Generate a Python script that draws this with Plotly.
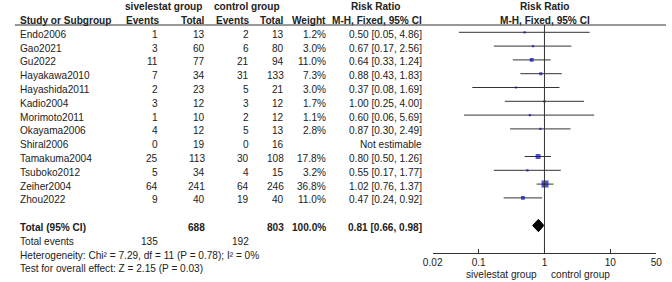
import math
import plotly.graph_objects as go

studies = ["Endo2006", "Gao2021", "Gu2022", "Hayakawa2010", "Hayashida2011", "Kadio2004",
           "Morimoto2011", "Okayama2006", "Shiral2006", "Tamakuma2004", "Tsuboko2012",
           "Zeiher2004", "Zhou2022"]
siv_events = [1, 3, 11, 7, 2, 3, 1, 4, 0, 25, 5, 64, 9]
siv_total = [13, 60, 77, 34, 23, 12, 10, 12, 19, 113, 34, 241, 40]
ctl_events = [2, 6, 21, 31, 5, 3, 2, 5, 0, 30, 4, 64, 19]
ctl_total = [13, 80, 94, 133, 21, 12, 12, 13, 16, 108, 15, 246, 40]
weight = [1.2, 3.0, 11.0, 7.3, 3.0, 1.7, 1.1, 2.8, None, 17.8, 3.2, 36.8, 11.0]
rr = [0.50, 0.67, 0.64, 0.88, 0.37, 1.00, 0.60, 0.87, None, 0.80, 0.55, 1.02, 0.47]
rr_lo = [0.05, 0.17, 0.33, 0.43, 0.08, 0.25, 0.06, 0.30, None, 0.50, 0.17, 0.76, 0.24]
rr_hi = [4.86, 2.56, 1.24, 1.83, 1.69, 4.00, 5.69, 2.49, None, 1.26, 1.77, 1.37, 0.92]

total_siv = 688
total_ctl = 803
total_weight = "100.0%"
total_rr, total_lo, total_hi = 0.81, 0.66, 0.98
events_siv = 135
events_ctl = 192
heterogeneity = "Heterogeneity: Chi\u00b2 = 7.29, df = 11 (P = 0.78); I\u00b2 = 0%"
overall = "Test for overall effect: Z = 2.15 (P = 0.03)"

tick_vals = [0.02, 0.1, 1, 10, 50]
tick_text = ["0.02", "0.1", "1", "10", "50"]
null_value = 1
favours = ["sivelestat group", "control group"]

W, H = 672, 282
FONT = "Liberation Sans, Arial, sans-serif"
TXT = "#222222"
FS = 10.1

rows = list(range(len(studies)))
total_row = len(studies) + 1
events_row = total_row + 1
het_row = total_row + 2
test_row = total_row + 3

fig = go.Figure()

# CI lines
for i in rows:
    if rr[i] is None:
        continue
    fig.add_trace(go.Scatter(x=[rr_lo[i], rr_hi[i]], y=[i, i], mode="lines",
                             line=dict(color="#333333", width=1),
                             hoverinfo="skip", showlegend=False))

# squares
sx = [rr[i] for i in rows if rr[i] is not None]
sy = [i for i in rows if rr[i] is not None]
ss = [max(2.2, 1.15 * math.sqrt(weight[i])) for i in rows if rr[i] is not None]
fig.add_trace(go.Scatter(x=sx, y=sy, mode="markers",
                         marker=dict(symbol="square", size=ss, color="#0a0ab4",
                                     line=dict(width=0)),
                         showlegend=False))

# diamond
dh = 0.45
fig.add_trace(go.Scatter(x=[total_lo, total_rr, total_hi, total_rr, total_lo],
                         y=[total_row, total_row - dh, total_row, total_row + dh, total_row],
                         mode="lines", fill="toself", fillcolor="#000000",
                         line=dict(color="#000000", width=1), showlegend=False))

annotations = []


def txt(x_px, row, text, anchor="right", bold=False, yshift=-2):
    annotations.append(dict(
        x=x_px / W, xref="paper", y=row, yref="y", text=("<b>%s</b>" % text) if bold else text,
        showarrow=False, xanchor=anchor, yanchor="middle", yshift=yshift,
        font=dict(family=FONT, size=FS, color=TXT)))


# headers
txt(157, -2, "sivelestat group", "center", True)
txt(243, -2, "control group", "center", True)
txt(374, -2, "Risk Ratio", "center", True)
txt(548, -2, "Risk Ratio", "center", True)
txt(8, -1, "Study or Subgroup", "left", True)
txt(155, -1, "Events", "right", True)
txt(202, -1, "Total", "right", True)
txt(247, -1, "Events", "right", True)
txt(283, -1, "Total", "right", True)
txt(326, -1, "Weight", "right", True)
txt(424, -1, "M-H, Fixed, 95% CI", "right", True)
txt(548, -1, "M-H, Fixed, 95% CI", "center", True)

for i in rows:
    txt(8, i, studies[i], "left")
    txt(154, i, str(siv_events[i]))
    txt(202, i, str(siv_total[i]))
    txt(247, i, str(ctl_events[i]))
    txt(283, i, str(ctl_total[i]))
    if weight[i] is not None:
        txt(326, i, "%.1f%%" % weight[i])
        txt(424, i, "%.2f [%.2f, %.2f]" % (rr[i], rr_lo[i], rr_hi[i]))
    else:
        txt(424, i, "Not estimable")

txt(8, total_row, "Total (95% CI)", "left", True)
txt(202, total_row, str(total_siv), "right", True)
txt(283, total_row, str(total_ctl), "right", True)
txt(326, total_row, total_weight, "right", True)
txt(424, total_row, "%.2f [%.2f, %.2f]" % (total_rr, total_lo, total_hi), "right", True)

txt(8, events_row, "Total events", "left")
txt(154, events_row, str(events_siv))
txt(247, events_row, str(events_ctl))
txt(8, het_row, heterogeneity, "left")
txt(8, test_row, overall, "left")

axis_y_px = 252.7
axis_pos = (H - axis_y_px) / H

# annotations on a log axis take log10 positions
annotations.append(dict(x=math.log10(null_value), xref="x", y=(H - 274) / H, yref="paper",
                        text=favours[0], showarrow=False, xanchor="right", yanchor="middle",
                        xshift=-5, font=dict(family=FONT, size=FS, color=TXT)))
annotations.append(dict(x=math.log10(null_value), xref="x", y=(H - 274) / H, yref="paper",
                        text=favours[1], showarrow=False, xanchor="left", yanchor="middle",
                        xshift=5, font=dict(family=FONT, size=FS, color=TXT)))

shapes = [
    dict(type="line", xref="paper", yref="paper", x0=5 / W, x1=1, y0=(H - 25) / H, y1=(H - 25) / H,
         line=dict(color="#333333", width=1)),
    dict(type="line", xref="x", yref="paper", x0=null_value, x1=null_value, y0=axis_pos,
         y1=(H - 25) / H, line=dict(color="#333333", width=1)),
]

row_px0 = 32.3
row_step = 13.8
y_top = -row_px0 / row_step
y_bot = (H - row_px0) / row_step

fig.update_layout(
    width=W, height=H, margin=dict(l=0, r=0, t=0, b=0),
    paper_bgcolor="white", plot_bgcolor="white",
    showlegend=False, annotations=annotations, shapes=shapes,
    xaxis=dict(type="log", range=[math.log10(0.02), math.log10(50)],
               domain=[433 / W, 662 / W], anchor="free", position=axis_pos,
               tickvals=tick_vals, ticktext=tick_text, ticks="inside", ticklen=4,
               tickcolor="#333333", showline=True, linecolor="#333333", linewidth=1,
               showgrid=False, zeroline=False,
               tickfont=dict(family=FONT, size=FS, color=TXT)),
    yaxis=dict(range=[y_bot, y_top], domain=[0, 1], visible=False, showgrid=False,
               zeroline=False),
)

fig.write_html("out.html", config={"displayModeBar": False},
               post_script="document.body.style.margin='0';document.body.style.overflow='hidden';")
